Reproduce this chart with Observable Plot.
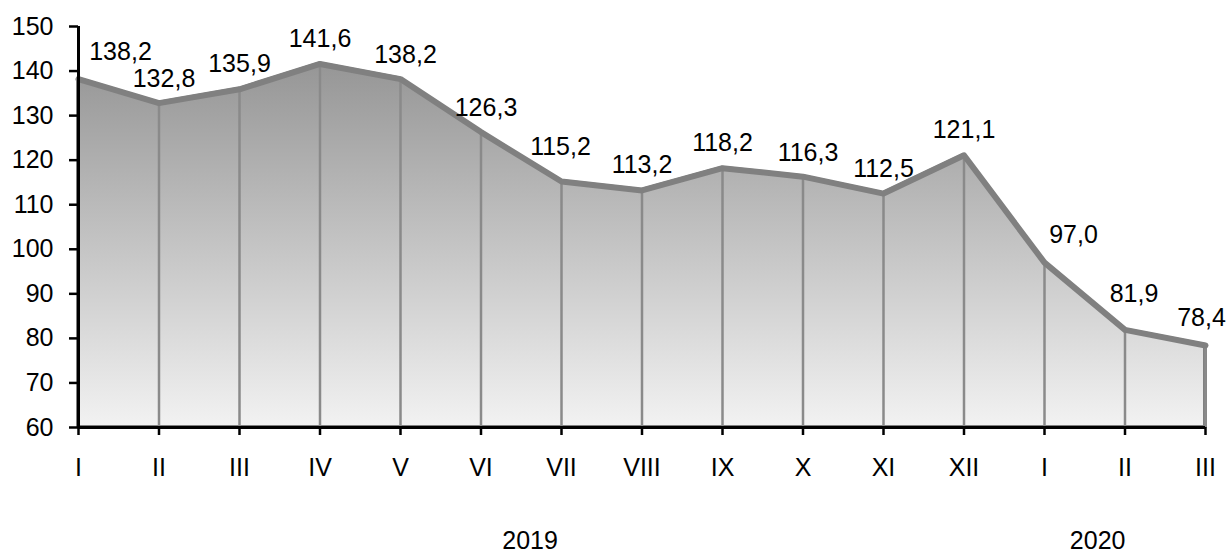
<!DOCTYPE html>
<html>
<head>
<meta charset="utf-8">
<script src="https://cdn.jsdelivr.net/npm/d3@7"></script>
<script src="https://cdn.jsdelivr.net/npm/@observablehq/plot@0.6"></script>
<style>
  html, body { margin: 0; padding: 0; background: #fff; }
  svg { display: block; }
</style>
</head>
<body>
<div id="chart"></div>
<script>
const months = ["I","II","III","IV","V","VI","VII","VIII","IX","X","XI","XII","I","II","III"];
const values = [138.2,132.8,135.9,141.6,138.2,126.3,115.2,113.2,118.2,116.3,112.5,121.1,97.0,81.9,78.4];
const years = ["2019","2020"];
const yearPos = [5.61, 12.66];
const yTicks = [60,70,80,90,100,110,120,130,140,150];

const data = values.map((v, i) => ({i, v, m: months[i]}));
const fmt = v => v.toFixed(1).replace(".", ",");
const font = "Liberation Sans, Arial, sans-serif";

// label groups (by category index) with their placement offsets
const label = (idx, dx, dy) => Plot.text(data.filter(d => idx.includes(d.i)), {
  x: "i", y: "v", text: d => fmt(d.v), dx, dy, fontSize: 25, fill: "#000"
});

const chart = Plot.plot({
  width: 1228,
  height: 557,
  marginLeft: 78,
  marginRight: 23,
  marginTop: 26,
  marginBottom: 130,
  style: {fontFamily: font, fontSize: "25px", color: "#000", background: "#fff"},
  x: {domain: [0, 14], axis: null},
  y: {domain: [60, 150], axis: null},
  marks: [
    Plot.areaY(data, {x: "i", y1: 60, y2: "v", fill: "url(#areaGrad)", stroke: "#808080", strokeWidth: 4, strokeLinejoin: "miter"}),
    Plot.ruleX(data, {x: "i", y1: 60, y2: "v", stroke: "#8a8a8a", strokeWidth: 2.5}),
    Plot.line(data, {x: "i", y: "v", stroke: "#808080", strokeWidth: 6, strokeLinejoin: "round"}),
    Plot.ruleX([0], {stroke: "#000", strokeWidth: 3}),
    Plot.ruleY([60], {stroke: "#000", strokeWidth: 3}),
    Plot.axisY({ticks: yTicks, label: null, tickSize: 9, tickPadding: 16, tickFormat: d => d, fontSize: 25, stroke: "#000", strokeWidth: 2.5}),
    Plot.axisX({ticks: d3.range(15), label: null, tickSize: 8, tickPadding: 23, tickFormat: i => months[i], fontSize: 25, strokeWidth: 2.5}),
    Plot.axisX({ticks: yearPos, label: null, tickSize: 0, tickPadding: 104, tickFormat: d => years[yearPos.indexOf(d)], fontSize: 25}),
    label([0], 42, -27),
    label([1,4,5,9], 5, -24),
    label([2,3,7,8,10,11], 0, -25),
    label([6], -1, -35),
    label([12], 29, -28),
    label([13], 9, -36),
    label([14], -4, -28)
  ]
});

const svg = d3.select(chart);
const defs = svg.insert("defs", ":first-child");
const g = defs.append("linearGradient").attr("id", "areaGrad")
  .attr("x1", 0).attr("y1", 0).attr("x2", 0).attr("y2", 1);
g.append("stop").attr("offset", "0%").attr("stop-color", "#969696");
g.append("stop").attr("offset", "100%").attr("stop-color", "#f2f2f2");

document.getElementById("chart").appendChild(chart);
</script>
</body>
</html>
